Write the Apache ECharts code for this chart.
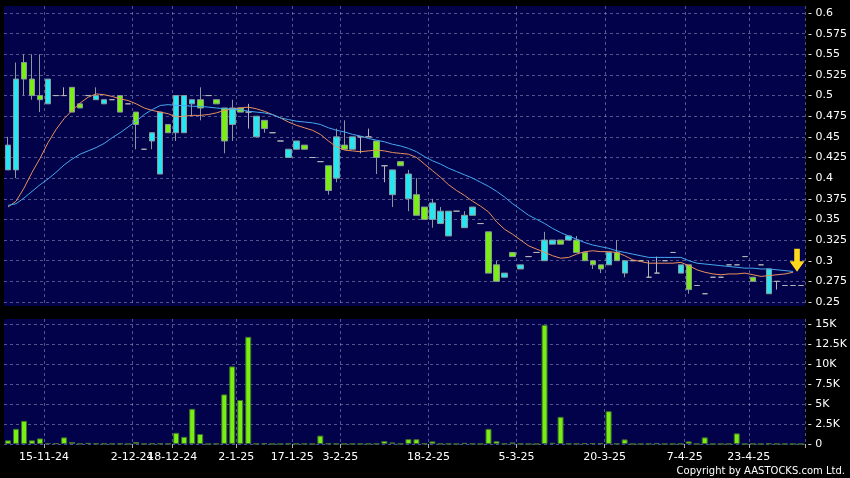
<!DOCTYPE html>
<html>
<head>
<meta charset="utf-8">
<script src="https://cdn.jsdelivr.net/npm/echarts@6/dist/echarts.min.js"></script>
<style>
html,body{margin:0;padding:0;background:#000;}
#c{width:850px;height:478px;}
</style>
</head>
<body>
<div id="c"></div>
<script>
// ---- data ----
// one slot per trading day shown on the chart
const days = Array.from({length: 100}, (_, i) => i);

const tickIdx  = [5, 16, 21, 29, 36, 42, 53, 64, 75, 85, 93];
const tickText = ['15-11-24','2-12-24','18-12-24','2-1-25','17-1-25','3-2-25','18-2-25','5-3-25','20-3-25','7-4-25','23-4-25'];

const priceTicks = [0.25,0.275,0.3,0.325,0.35,0.375,0.4,0.425,0.45,0.475,0.5,0.525,0.55,0.575,0.6];
const volTicks = [0,2500,5000,7500,10000,12500,15000];

const opens = [
 .41,.41,.54,.52,.50,.49,.50,.50,.51,.49,
 .50,.495,.49,.495,.50,.49,.48,.435,.445,.405,
 .465,.455,.455,.49,.495,.50,.495,.485,.465,.485,
 .48,.45,.47,.455,.445,.425,.435,.44,.425,.42,
 .415,.40,.44,.435,.45,.45,.445,.415,.38,.42,
 .375,.38,.365,.35,.345,.33,.36,.34,.355,.345,
 .335,.295,.28,.31,.29,.305,.31,.30,.32,.325,
 .325,.325,.31,.30,.295,.295,.31,.285,.30,.30,
 .28,.285,.30,.31,.285,.295,.27,.26,.28,.28,
 .295,.295,.305,.28,.295,.26,.275,.27,.27,.27];
const closes = [
 .44,.52,.52,.50,.495,.52,.50,.50,.48,.485,
 .50,.50,.495,.495,.48,.49,.465,.435,.455,.48,
 .455,.50,.50,.495,.485,.50,.49,.445,.485,.48,
 .48,.475,.46,.455,.445,.435,.445,.435,.425,.42,
 .385,.45,.435,.45,.45,.45,.425,.415,.41,.415,
 .405,.355,.35,.37,.36,.36,.36,.355,.365,.345,
 .285,.275,.285,.305,.295,.305,.31,.325,.325,.32,
 .33,.31,.30,.295,.29,.31,.30,.30,.30,.30,
 .28,.285,.30,.31,.295,.265,.27,.26,.28,.28,
 .295,.295,.305,.275,.295,.29,.275,.27,.27,.27];
const lows = [
 .41,.40,.50,.495,.48,.49,.50,.50,.48,.485,
 .50,.495,.49,.495,.48,.49,.435,.435,.435,.405,
 .455,.445,.455,.475,.47,.50,.49,.43,.445,.48,
 .46,.45,.455,.455,.445,.425,.435,.435,.425,.42,
 .38,.395,.435,.435,.43,.45,.405,.395,.365,.415,
 .36,.355,.35,.34,.345,.33,.36,.34,.355,.345,
 .285,.275,.28,.305,.29,.305,.31,.30,.32,.32,
 .325,.31,.30,.29,.285,.295,.30,.28,.30,.30,
 .28,.285,.30,.31,.285,.26,.27,.26,.28,.28,
 .295,.295,.305,.275,.295,.26,.265,.27,.27,.27];
const highs = [
 .45,.54,.55,.55,.55,.52,.50,.51,.51,.49,
 .50,.51,.495,.495,.50,.49,.48,.435,.455,.48,
 .465,.50,.50,.495,.51,.50,.495,.485,.495,.485,
 .49,.475,.47,.455,.445,.435,.445,.44,.425,.42,
 .415,.46,.47,.45,.45,.46,.445,.415,.41,.42,
 .41,.40,.365,.375,.365,.36,.36,.36,.365,.345,
 .335,.30,.285,.31,.295,.305,.31,.335,.325,.325,
 .33,.33,.31,.30,.295,.31,.325,.30,.30,.30,
 .30,.305,.30,.31,.295,.295,.27,.26,.28,.28,
 .295,.295,.305,.28,.295,.29,.275,.27,.27,.27];
const volumes = [
 460,1900,2900,460,700,120,100,830,250,50,
 150,60,50,30,50,0,250,30,60,60,
 30,1400,900,4400,1250,0,30,6200,9700,5500,
 13400,30,80,0,0,60,30,30,0,1050,
 60,30,20,20,20,20,30,370,200,30,
 620,600,60,330,30,30,0,150,30,0,
 1900,350,30,200,30,0,0,14900,150,3400,
 30,30,100,100,100,4100,30,580,0,0,
 30,100,0,0,30,330,0,830,0,0,
 0,1330,0,30,0,60,30,0,0,0];
// moving averages as drawn (orange = short, blue = long)
const maShort = [
 .365,.372,.388,.407,.424,.443,.459,.472,.482,.491,
 .498,.502,.501,.499,.496,.494,.490,.485,.482,.480,
 .478,.474,.475,.476,.476,.477,.479,.482,.484,.485,
 .486,.484,.481,.477,.473,.468,.464,.461,.458,.453,
 .445,.438,.434,.433,.432,.433,.434,.433,.431,.430,
 .429,.425,.417,.409,.401,.392,.385,.379,.372,.366,
 .359,.347,.338,.332,.325,.318,.314,.310,.306,.303,
 .304,.308,.311,.312,.311,.311,.310,.306,.301,.299,
 .297,.297,.297,.297,.298,.294,.289,.286,.284,.283,
 .284,.284,.285,.283,.281,.282,.283,.284,.286];
const maLong = [
 .367,.369,.376,.384,.392,.399,.407,.416,.423,.429,
 .433,.437,.442,.449,.455,.462,.469,.477,.483,.488,
 .489,.488,.488,.487,.487,.486,.485,.484,.484,.483,
 .481,.480,.479,.477,.473,.471,.469,.468,.467,.465,
 .461,.458,.456,.453,.451,.448,.446,.444,.441,.439,
 .436,.432,.426,.421,.417,.412,.408,.404,.400,.395,
 .390,.384,.377,.369,.362,.355,.350,.345,.339,.334,
 .330,.326,.322,.319,.317,.315,.312,.310,.308,.306,
 .304,.304,.304,.304,.304,.300,.297,.296,.295,.294,
 .293,.292,.291,.291,.290,.290,.289,.288,.287];

// ---- styling / layout ----
const FONT = 'DejaVu Sans';
const NAVY = '#02024a';
const GRIDC = 'rgba(150,150,200,0.55)';
const CYAN = '#26e6f2', GREEN = '#7aee14', EDGE = '#8a9a9a', DOJI = '#b4b4b4';
const mainTop = 6, mainH = 300, volTop = 319, volH = 126;
const pxPerPrice = 289 / 0.35;            // 0.25 -> y302, 0.6 -> y13
const priceMin = 0.25 - 4 / pxPerPrice;
const priceMax = 0.6 + 7 / pxPerPrice;
const pxPerVol = 120 / 15000;             // 0 -> y444, 15K -> y324
const volMin = -1 / pxPerVol;
const volMax = 15000 + 5 / pxPerVol;

const isTick = (i) => tickIdx.indexOf(i) >= 0;
const dojiStyle = {color: DOJI, color0: DOJI, borderColor: DOJI, borderColor0: DOJI, borderColorDoji: DOJI};
const candles = days.map(i => {
  const item = {value: [opens[i], closes[i], lows[i], highs[i]]};
  if (opens[i] === closes[i]) item.itemStyle = dojiStyle;
  return item;
});

const splitLine = {show: true, interval: isTick, lineStyle: {color: GRIDC, type: [3, 3], width: 1}};
const hSplit = {show: true, lineStyle: {color: GRIDC, type: [3, 3], width: 1}};
const lastIdx = maLong.length - 1;

const option = {
  backgroundColor: '#000',
  animation: false,
  textStyle: {fontFamily: FONT},
  grid: [
    {left: 4, right: 43, top: mainTop, height: mainH, show: true, backgroundColor: NAVY, borderWidth: 0},
    {left: 4, right: 43, top: volTop, height: volH, show: true, backgroundColor: NAVY, borderWidth: 0}
  ],
  xAxis: [
    {type: 'category', gridIndex: 0, data: days, boundaryGap: true,
     axisLine: {show: false}, axisTick: {show: false}, axisLabel: {show: false},
     splitLine: splitLine},
    {type: 'category', gridIndex: 1, data: days, boundaryGap: true,
     axisLine: {show: false},
     axisTick: {show: true, interval: isTick, length: 4, lineStyle: {color: '#b0b0b0'}},
     axisLabel: {show: true, interval: isTick, color: '#fff', fontSize: 11, fontFamily: FONT,
                 margin: 7, padding: [0, 8, 0, 0],
                 formatter: (v, i) => tickText[tickIdx.indexOf(i)] || ''},
     splitLine: splitLine}
  ],
  yAxis: [
    {type: 'value', gridIndex: 0, position: 'right', min: priceMin, max: priceMax,
     axisLine: {show: false}, axisTick: {show: false, customValues: priceTicks},
     axisLabel: {customValues: priceTicks, color: '#fff', fontSize: 11, fontFamily: FONT, margin: 3,
                 formatter: v => '- ' + String(+Number(v).toFixed(3))},
     splitLine: hSplit},
    {type: 'value', gridIndex: 1, position: 'right', min: volMin, max: volMax,
     axisLine: {show: false}, axisTick: {show: false, customValues: volTicks},
     axisLabel: {customValues: volTicks, color: '#fff', fontSize: 11, fontFamily: FONT, margin: 3,
                 formatter: v => '- ' + (Math.round(v) === 0 ? '0' : (v / 1000) + 'K')},
     splitLine: hSplit}
  ],
  series: [
    {type: 'candlestick', xAxisIndex: 0, yAxisIndex: 0, data: candles, barWidth: 6, z: 3,
     itemStyle: {color: CYAN, color0: GREEN, borderColor: EDGE, borderColor0: EDGE, borderColorDoji: DOJI, borderWidth: 1}},
    {type: 'line', xAxisIndex: 0, yAxisIndex: 0, data: maShort, symbol: 'none', z: 4,
     lineStyle: {color: '#e8905c', width: 1}},
    {type: 'line', xAxisIndex: 0, yAxisIndex: 0, data: maLong, symbol: 'none', z: 4,
     lineStyle: {color: '#45a8f0', width: 1}},
    {type: 'scatter', xAxisIndex: 0, yAxisIndex: 0, z: 6,
     data: [[lastIdx, (maLong[lastIdx] + maShort[lastIdx]) / 2]],
     symbol: 'path://M5,0 L11,0 L11,13 L16,13 L8,24 L0,13 L5,13 Z',
     symbolSize: [15, 23], symbolOffset: [4, -11.5],
     itemStyle: {color: '#ffd91a', opacity: 1, borderWidth: 0}},
    {type: 'bar', xAxisIndex: 1, yAxisIndex: 1, data: volumes, barWidth: 6, z: 3,
     itemStyle: {color: '#78ee12', borderColor: '#3f6e2a', borderWidth: 1}}
  ],
  graphic: [
    {type: 'text', right: 5, top: 466, z: 10,
     style: {text: 'Copyright by AASTOCKS.com Ltd.', fill: '#fff', font: '10px "DejaVu Sans"'}}
  ]
};

const chart = echarts.init(document.getElementById('c'), null, {renderer: 'canvas'});
chart.setOption(option);
</script>
</body>
</html>
